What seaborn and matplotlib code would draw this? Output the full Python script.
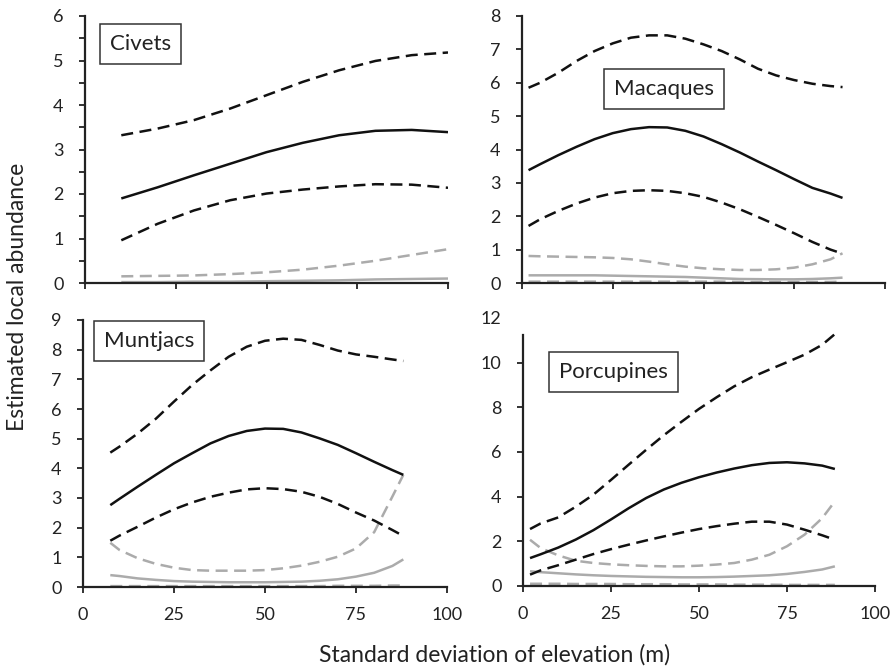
import matplotlib
matplotlib.use("Agg")
import matplotlib.pyplot as plt
import seaborn as sns
import numpy as np
from matplotlib.ticker import MultipleLocator

sns.set_style("ticks")
plt.rcParams['font.family'] = ['Lato', 'DejaVu Sans']

# ---------------- data ----------------
# Civets
civ_x = [10, 20, 30, 40, 50, 60, 70, 80, 90, 100]
civ_mean = [1.90, 2.15, 2.42, 2.68, 2.94, 3.15, 3.32, 3.42, 3.44, 3.39]
civ_up = [3.32, 3.47, 3.66, 3.92, 4.22, 4.52, 4.78, 4.99, 5.12, 5.18]
civ_lo = [0.96, 1.33, 1.63, 1.86, 2.01, 2.10, 2.17, 2.22, 2.21, 2.14]
civ_gmean = [0.02, 0.02, 0.03, 0.03, 0.04, 0.05, 0.06, 0.08, 0.09, 0.10]
civ_gup = [0.15, 0.16, 0.17, 0.20, 0.24, 0.30, 0.39, 0.50, 0.63, 0.76]
civ_glo = [0.01, 0.01, 0.01, 0.01, 0.01, 0.01, 0.01, 0.01, 0.01, 0.01]

# Macaques
mac_x = [1.8, 5, 10, 15, 20, 25, 30, 35, 40, 45, 50, 55, 60, 65, 70, 75, 80, 85, 88.3]
mac_mean = [3.38, 3.56, 3.83, 4.08, 4.31, 4.49, 4.61, 4.67, 4.66, 4.56, 4.39, 4.16,
            3.91, 3.64, 3.38, 3.11, 2.85, 2.68, 2.55]
mac_up = [5.85, 6.00, 6.30, 6.65, 6.95, 7.18, 7.35, 7.42, 7.42, 7.32, 7.15, 6.95,
          6.70, 6.42, 6.22, 6.08, 5.97, 5.90, 5.87]
mac_lo = [1.71, 1.91, 2.16, 2.38, 2.56, 2.69, 2.76, 2.78, 2.76, 2.69, 2.58, 2.41,
          2.21, 1.98, 1.74, 1.49, 1.23, 1.00, 0.88]
mac_gmean = [0.23, 0.23, 0.23, 0.23, 0.23, 0.22, 0.21, 0.20, 0.19, 0.18, 0.16, 0.14,
             0.12, 0.115, 0.11, 0.11, 0.12, 0.14, 0.16]
mac_gup = [0.81, 0.80, 0.79, 0.78, 0.77, 0.75, 0.71, 0.64, 0.56, 0.49, 0.44, 0.41,
           0.39, 0.39, 0.41, 0.46, 0.56, 0.71, 0.89]
mac_glo = [0.04, 0.04, 0.04, 0.04, 0.04, 0.04, 0.04, 0.04, 0.04, 0.04, 0.04, 0.04,
           0.03, 0.03, 0.03, 0.03, 0.03, 0.03, 0.04]

# Muntjacs
mun_x = [7.5, 10, 15, 20, 25, 30, 35, 40, 45, 50, 55, 60, 65, 70, 75, 80, 85, 88]
mun_mean = [2.76, 2.97, 3.38, 3.78, 4.17, 4.51, 4.84, 5.09, 5.26, 5.34, 5.33, 5.21,
            5.01, 4.79, 4.51, 4.22, 3.94, 3.78]
mun_up = [4.53, 4.73, 5.17, 5.67, 6.25, 6.81, 7.30, 7.76, 8.10, 8.30, 8.37, 8.33,
          8.16, 7.97, 7.84, 7.76, 7.67, 7.62]
mun_lo = [1.56, 1.73, 2.03, 2.34, 2.62, 2.85, 3.04, 3.18, 3.29, 3.33, 3.30, 3.21,
          3.04, 2.80, 2.51, 2.24, 1.92, 1.72]
mun_gmean = [0.40, 0.37, 0.29, 0.24, 0.20, 0.18, 0.17, 0.16, 0.16, 0.16, 0.17, 0.18,
             0.21, 0.26, 0.35, 0.48, 0.71, 0.93]
mun_gup = [1.49, 1.25, 0.97, 0.78, 0.65, 0.57, 0.55, 0.55, 0.55, 0.57, 0.63, 0.72,
           0.85, 1.02, 1.30, 1.85, 3.05, 3.78]
mun_glo = [0.03, 0.03, 0.03, 0.03, 0.03, 0.03, 0.03, 0.03, 0.03, 0.03, 0.03, 0.03,
           0.03, 0.04, 0.04, 0.04, 0.05, 0.05]

# Porcupines
por_x = [2, 5, 10, 15, 20, 25, 30, 35, 40, 45, 50, 55, 60, 65, 70, 75, 80, 85, 88.6]
por_mean = [1.25, 1.42, 1.72, 2.08, 2.50, 2.98, 3.48, 3.94, 4.32, 4.62, 4.87, 5.08,
            5.26, 5.41, 5.51, 5.54, 5.49, 5.39, 5.24]
por_up = [2.55, 2.80, 3.07, 3.55, 4.09, 4.75, 5.43, 6.10, 6.75, 7.35, 7.93, 8.45,
          8.94, 9.35, 9.69, 10.02, 10.36, 10.80, 11.28]
por_lo = [0.51, 0.70, 0.93, 1.18, 1.43, 1.65, 1.85, 2.04, 2.22, 2.39, 2.55, 2.68,
          2.79, 2.88, 2.88, 2.75, 2.52, 2.27, 2.07]
por_gmean = [0.66, 0.62, 0.57, 0.52, 0.48, 0.45, 0.43, 0.41, 0.40, 0.39, 0.39, 0.40,
             0.42, 0.45, 0.48, 0.54, 0.63, 0.74, 0.88]
por_gup = [2.07, 1.70, 1.37, 1.13, 1.03, 0.97, 0.93, 0.90, 0.88, 0.88, 0.91, 0.96,
           1.03, 1.18, 1.40, 1.78, 2.30, 3.04, 3.79]
por_glo = [0.10, 0.10, 0.10, 0.09, 0.09, 0.09, 0.08, 0.08, 0.08, 0.07, 0.07, 0.07,
           0.06, 0.06, 0.06, 0.05, 0.05, 0.05, 0.05]

x_ticks = [0, 25, 50, 75, 100]
x_label = "Standard deviation of elevation (m)"
y_label = "Estimated local abundance"

panels = [
    dict(name="Civets", x=civ_x, mean=civ_mean, up=civ_up, lo=civ_lo,
         gmean=civ_gmean, gup=civ_gup, glo=civ_glo, ymax=6, ystep=1,
         rect=(85, 16, 448, 283), box=(0.152, 0.897), xlabels=False, minor=0.5, spine_top=None),
    dict(name="Macaques", x=mac_x, mean=mac_mean, up=mac_up, lo=mac_lo,
         gmean=mac_gmean, gup=mac_gup, glo=mac_glo, ymax=8, ystep=1,
         rect=(522, 16, 885, 283), box=(0.39, 0.728), xlabels=False, minor=None, spine_top=None),
    dict(name="Muntjacs", x=mun_x, mean=mun_mean, up=mun_up, lo=mun_lo,
         gmean=mun_gmean, gup=mun_gup, glo=mun_glo, ymax=9, ystep=1,
         rect=(83, 320, 447, 587), box=(0.181, 0.923), xlabels=True, minor=None, spine_top=None),
    dict(name="Porcupines", x=por_x, mean=por_mean, up=por_up, lo=por_lo,
         gmean=por_gmean, gup=por_gup, glo=por_glo, ymax=12, ystep=2,
         rect=(523, 318, 875, 586), box=(0.256, 0.797), xlabels=True, minor=None, spine_top=11.25),
]

W, H = 893, 671
fig = plt.figure(figsize=(W / 100, H / 100), dpi=100)

BLACK = "#111111"
GRAY = "#ababab"
LW = 1.8
DASH = (4.8, 2.6)
tick_fs = 13

for p in panels:
    x0, y0, x1, y1 = p["rect"]
    ax = fig.add_axes([x0 / W, 1 - y1 / H, (x1 - x0) / W, (y1 - y0) / H])
    xs = p["x"]
    # gray (second model) lines
    sns.lineplot(x=xs, y=p["glo"], ax=ax, color=GRAY, lw=LW,
                 linestyle=(0, DASH), estimator=None, sort=False)
    sns.lineplot(x=xs, y=p["gmean"], ax=ax, color=GRAY, lw=LW, estimator=None, sort=False)
    sns.lineplot(x=xs, y=p["gup"], ax=ax, color=GRAY, lw=LW,
                 linestyle=(0, DASH), estimator=None, sort=False)
    # black lines
    sns.lineplot(x=xs, y=p["lo"], ax=ax, color=BLACK, lw=LW,
                 linestyle=(0, DASH), estimator=None, sort=False)
    sns.lineplot(x=xs, y=p["up"], ax=ax, color=BLACK, lw=LW,
                 linestyle=(0, DASH), estimator=None, sort=False)
    sns.lineplot(x=xs, y=p["mean"], ax=ax, color=BLACK, lw=LW, estimator=None, sort=False)
    for ln in ax.lines:
        ln.set_solid_capstyle("butt")
        ln.set_dash_capstyle("butt")
        ln.set_solid_joinstyle("round")

    ax.set_xlim(0, 100)
    ax.set_ylim(0, p["ymax"])
    ax.set_xticks(x_ticks)
    ax.set_yticks(np.arange(0, p["ymax"] + 0.01, p["ystep"]))
    if p["minor"]:
        ax.yaxis.set_minor_locator(MultipleLocator(p["minor"]))
        ax.tick_params(axis="y", which="minor", length=4, width=1.3, color="#222222")
    if not p["xlabels"]:
        ax.set_xticklabels([])
    ax.set_xlabel("")
    ax.set_ylabel("")
    for s in ["top", "right"]:
        ax.spines[s].set_visible(False)
    for s in ["left", "bottom"]:
        ax.spines[s].set_linewidth(1.6)
        ax.spines[s].set_color("#222222")
    ax.tick_params(axis="both", which="major", length=4.5, width=1.3,
                   color="#222222", labelsize=tick_fs, labelcolor="#222222")
    ax.tick_params(axis="y", which="major", pad=11)
    ax.tick_params(axis="x", which="major", pad=10)
    if p["spine_top"] is not None:
        ax.spines["left"].set_bounds(0, p["spine_top"])
        ax.yaxis.get_major_ticks()[-1].tick1line.set_visible(False)
    ax.set_facecolor("white")
    ax.text(p["box"][0], p["box"][1], p["name"], transform=ax.transAxes,
            ha="center", va="center", fontsize=16, color="#222222",
            bbox=dict(boxstyle="square,pad=0.45", fc="white", ec="#333333", lw=1.1),
            zorder=5)

fig.text(495 / W, 1 - 655 / H, x_label, ha="center", va="center",
         fontsize=16.5, color="#222222")
fig.text(18 / W, 1 - 297 / H, y_label, ha="center", va="center",
         rotation=90, fontsize=16.5, color="#222222")

fig.savefig("out.png", dpi=100, facecolor="white")
